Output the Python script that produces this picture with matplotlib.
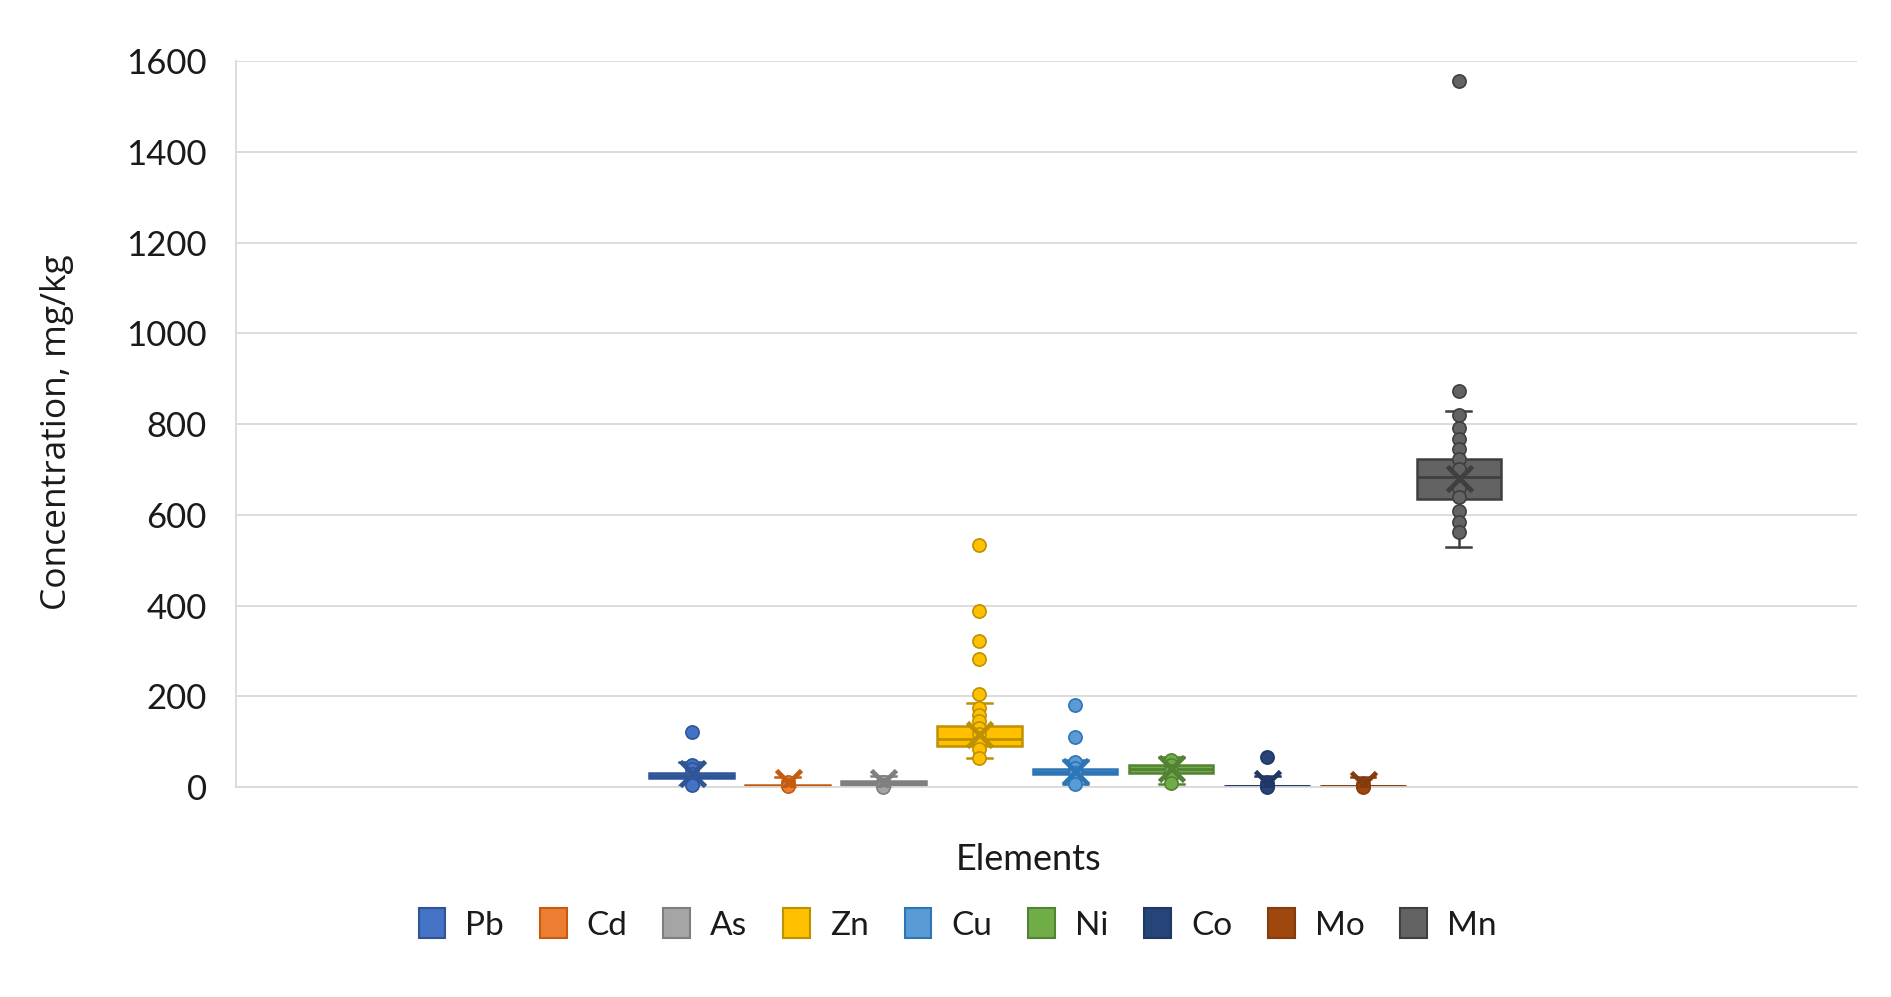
import numpy as np
import matplotlib.pyplot as plt
from matplotlib.patches import Patch

# element statistics (mg/kg)
elements = ['Pb', 'Cd', 'As', 'Zn', 'Cu', 'Ni', 'Co', 'Mo', 'Mn']
q1 = [20, 1, 5, 91, 28, 31, 1, 1, 634]
medians = [25, 2, 9, 105, 34, 40, 2, 2, 683]
q3 = [30, 4, 13, 134, 40, 48, 3, 3, 722]
whisker_lo = [2, 0, 0, 63, 6, 6, 0, 0, 530]
whisker_hi = [56, 22, 25, 185, 60, 66, 25, 22, 829]
means = [30, 11, 12, 116, 35, 42, 9, 6, 680]
outliers = [[122], [], [], [533, 388, 321, 283, 206], [181, 110], [], [66], [], [873, 1556]]
inner_points = [
    [49, 40, 29, 20, 11, 4],
    [12, 5, 2],
    [10, 5, 1],
    [174, 159, 145, 130, 116, 100, 83, 65],
    [55, 42, 30, 18, 6],
    [60, 48, 36, 22, 9],
    [8, 3, 1],
    [6, 3, 1],
    [820, 791, 766, 746, 722, 700, 660, 640, 608, 584, 562],
]

fills = ['#4472C4', '#ED7D31', '#A5A5A5', '#FFC000', '#5B9BD5',
         '#70AD47', '#264478', '#9E480E', '#636363']
edges = ['#2F5597', '#C55A11', '#7F7F7F', '#BF9000', '#2E75B6',
         '#548235', '#1F3864', '#843C0C', '#3F3F3F']

fig = plt.figure(figsize=(18.91, 9.97), dpi=100)
ax = fig.add_axes([0.1248, 0.2106, 0.8572, 0.7282])

positions = np.arange(1, len(elements) + 1)
for i, el in enumerate(elements):
    stats = [dict(label=el, q1=q1[i], med=medians[i], q3=q3[i],
                  whislo=whisker_lo[i], whishi=whisker_hi[i],
                  mean=means[i], fliers=np.array(outliers[i]))]
    ax.bxp(stats, positions=[positions[i]], widths=0.88, showmeans=True,
           patch_artist=True, capwidths=0.26, manage_ticks=False,
           boxprops=dict(facecolor=fills[i], edgecolor=edges[i], linewidth=1.8),
           medianprops=dict(color=edges[i], linewidth=2),
           whiskerprops=dict(color=edges[i], linewidth=1.8),
           capprops=dict(color=edges[i], linewidth=1.8),
           meanprops=dict(marker='x', markersize=18, markeredgewidth=3.4,
                          markeredgecolor=edges[i], zorder=5),
           flierprops=dict(marker='o', markersize=9.5, markerfacecolor=fills[i],
                           markeredgecolor=edges[i], markeredgewidth=1.2))
    pts = inner_points[i]
    ax.plot(np.full(len(pts), positions[i]), pts, 'o', markersize=9.5,
            markerfacecolor=fills[i], markeredgecolor=edges[i],
            markeredgewidth=1.2, zorder=4, clip_on=False)

ax.set_xlim(-3.75, 13.15)
ax.set_ylim(0, 1600)
ax.set_yticks(np.arange(0, 1601, 200))
ax.set_xticks([])
ax.yaxis.grid(True, color='#D9D9D9', linewidth=1.3)
ax.set_axisbelow(True)
for side in ['right', 'top']:
    ax.spines[side].set_visible(False)
ax.spines['left'].set_color('#D9D9D9')
ax.spines['bottom'].set_color('#D9D9D9')
ax.spines['left'].set_linewidth(1.3)
ax.spines['bottom'].set_linewidth(1.3)
ax.tick_params(axis='y', length=0, pad=21, labelsize=25, labelcolor='#1a1a1a')
for lab in ax.get_yticklabels():
    lab.set_family('Lato')

fig.text(0.030, 0.5667, 'Concentration, mg/kg', rotation=90, ha='center',
         va='center', fontsize=25.5, family='Open Sans', color='#1a1a1a')
fig.text(0.5437, 0.1383, 'Elements', ha='center', va='center', fontsize=26,
         family='Lato', color='#1a1a1a')

handles = [Patch(facecolor=f, edgecolor=e, linewidth=1.5) for f, e in zip(fills, edges)]
fig.legend(handles, elements, loc='center', bbox_to_anchor=(0.5064, 0.0727), ncol=9,
           frameon=False, prop=dict(family='Lato', size=24), handlelength=0.8,
           handleheight=1.0, handletextpad=0.6, columnspacing=1.08,
           labelcolor='#1a1a1a')

fig.savefig('out.png', dpi=100, facecolor='white')
